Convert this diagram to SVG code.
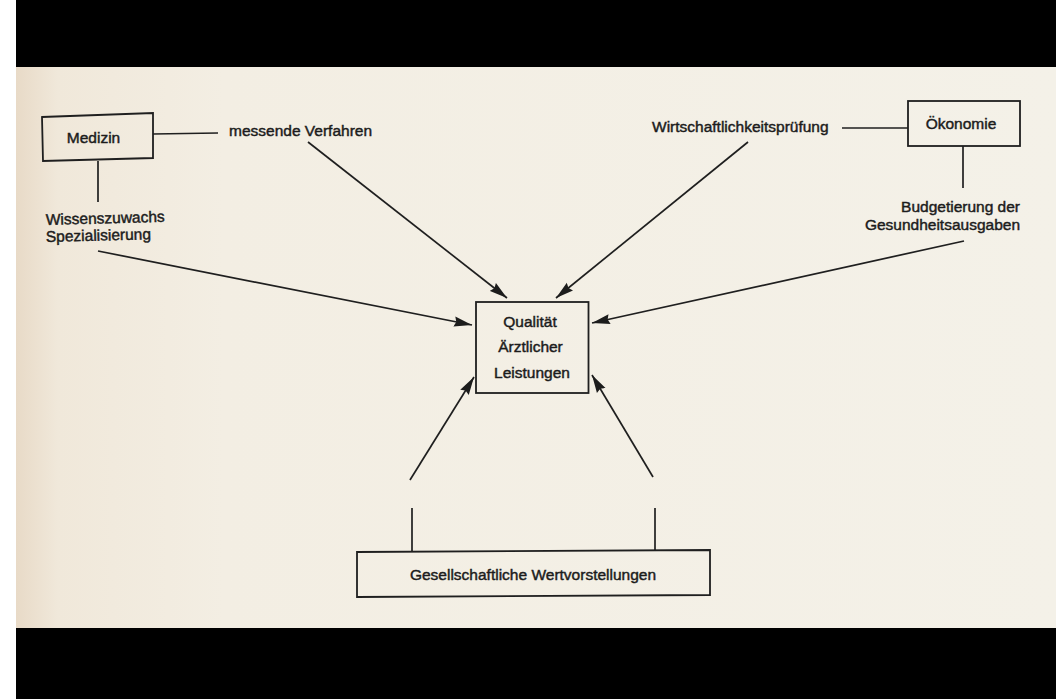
<svg xmlns="http://www.w3.org/2000/svg" width="1056" height="699" viewBox="0 0 1056 699">
  <defs>
    <linearGradient id="paper" x1="0" y1="0" x2="1" y2="0">
      <stop offset="0" stop-color="#e8dac7"/>
      <stop offset="0.04" stop-color="#f0e8da"/>
      <stop offset="0.2" stop-color="#f3eee3"/>
      <stop offset="1" stop-color="#f4f1e8"/>
    </linearGradient>
    <marker id="arrow" markerUnits="userSpaceOnUse" markerWidth="19" markerHeight="11" refX="18" refY="5.5" orient="auto">
      <path d="M0,0.5 L18,5.5 L0,10.5 L2,5.5 z" fill="#1c1c1c"/>
    </marker>
    <style>
      .box { fill: none; stroke: #1f1f1f; stroke-width: 1.8; }
      .line { fill: none; stroke: #1f1f1f; stroke-width: 1.7; }
      .arr { fill: none; stroke: #1f1f1f; stroke-width: 1.7; marker-end: url(#arrow); }
      .t { font-family: "Liberation Sans", Arial, sans-serif; font-size: 15.5px; fill: #1c1c1c; stroke: #1c1c1c; stroke-width: 0.45; }
      .c { text-anchor: middle; }
      .r { text-anchor: end; }
    </style>
  </defs>

  <!-- page -->
  <rect x="0" y="0" width="1056" height="699" fill="#ffffff"/>
  <rect x="16" y="67" width="1040" height="561" fill="url(#paper)"/>
  <rect x="16" y="0" width="1040" height="67" fill="#000000"/>
  <rect x="16" y="628" width="1040" height="71" fill="#000000"/>

  <g id="connectors">
    <line class="line" x1="153" y1="134" x2="218" y2="133"/>
    <line class="line" x1="98" y1="161" x2="98" y2="202"/>
    <line class="line" x1="842" y1="128" x2="908" y2="128"/>
    <line class="line" x1="963" y1="146" x2="963" y2="188"/>
    <line class="line" x1="412" y1="508" x2="412" y2="551"/>
    <line class="line" x1="655" y1="508" x2="655" y2="550"/>
    <line class="arr" x1="98" y1="251" x2="472" y2="325"/>
    <line class="arr" x1="308" y1="142" x2="507" y2="298"/>
    <line class="arr" x1="748" y1="142" x2="556" y2="298"/>
    <line class="arr" x1="964" y1="241" x2="592" y2="323"/>
    <line class="arr" x1="410" y1="480" x2="474" y2="377"/>
    <line class="arr" x1="653" y1="477" x2="592" y2="375"/>
  </g>

  <g id="medizin">
    <polygon class="box" points="42,117 153,113 153,158 43,161"/>
    <text class="t c" x="93.5" y="143">Medizin</text>
  </g>

  <g id="messende-verfahren">
    <text class="t" x="229" y="136">messende Verfahren</text>
  </g>

  <g id="wissenszuwachs">
    <text class="t" x="46" y="225" transform="rotate(-1.5 46 225)">Wissenszuwachs</text>
    <text class="t" x="46" y="242" transform="rotate(-1.5 46 242)">Spezialisierung</text>
  </g>

  <g id="wirtschaftlichkeit">
    <text class="t" x="652" y="132">Wirtschaftlichkeitsprüfung</text>
  </g>

  <g id="oekonomie">
    <rect class="box" x="908" y="101" width="112" height="45"/>
    <text class="t c" x="961" y="129">Ökonomie</text>
  </g>

  <g id="budgetierung">
    <text class="t r" x="1020" y="212">Budgetierung der</text>
    <text class="t r" x="1020" y="230">Gesundheitsausgaben</text>
  </g>

  <g id="qualitaet">
    <rect class="box" x="476" y="302" width="112.5" height="91"/>
    <text class="t c" x="530" y="327">Qualität</text>
    <text class="t c" x="530.5" y="352">Ärztlicher</text>
    <text class="t c" x="532" y="378">Leistungen</text>
  </g>

  <g id="gesellschaft">
    <polygon class="box" points="357,552 710,550 710,595 357,597"/>
    <text class="t c" x="533" y="580">Gesellschaftliche Wertvorstellungen</text>
  </g>
</svg>
